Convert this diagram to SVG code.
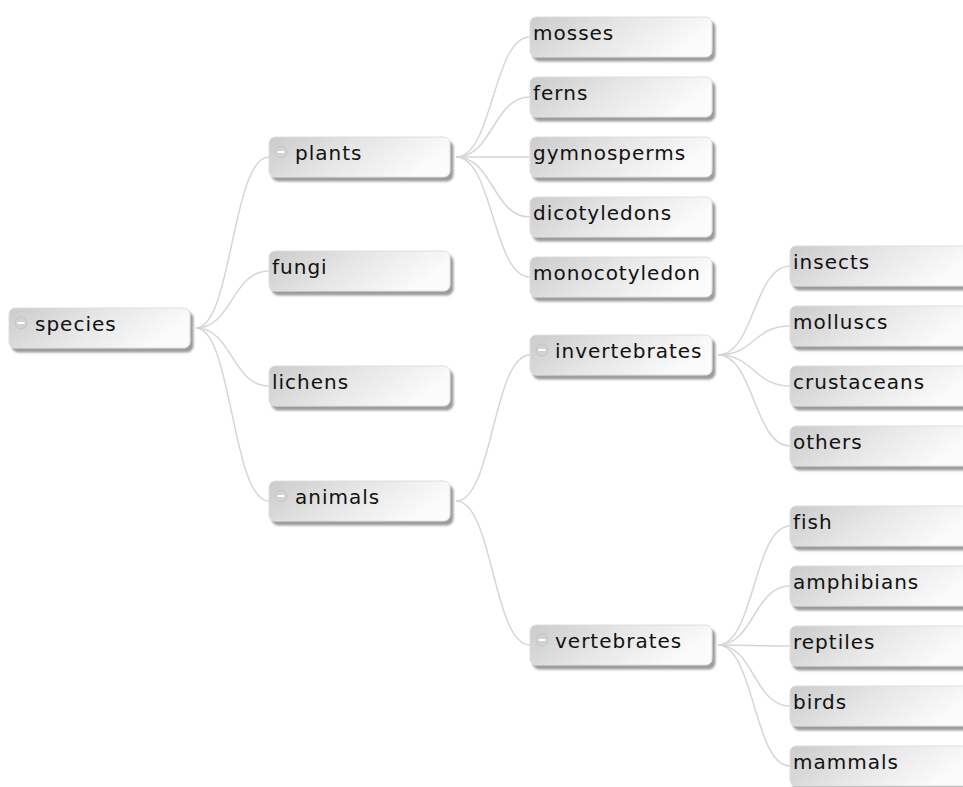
<svg xmlns="http://www.w3.org/2000/svg" width="963" height="787" viewBox="0 0 963 787">
<defs>
<linearGradient id="g" x1="0" y1="0" x2="1" y2="0.3">
<stop offset="0" stop-color="#cbcbcb"/>
<stop offset="0.5" stop-color="#e6e6e6"/>
<stop offset="1" stop-color="#fbfbfb"/>
</linearGradient>
<filter id="sh" x="-10%" y="-20%" width="130%" height="160%">
<feDropShadow dx="3" dy="4" stdDeviation="1.3" flood-color="#8a8a8a" flood-opacity="0.85"/>
</filter>
<style>
.box{fill:url(#g);stroke:#dedede;stroke-width:1;filter:url(#sh)}
.t{font-family:"DejaVu Sans",Verdana,sans-serif;font-size:20px;letter-spacing:1px;fill:#111}
.c{fill:none;stroke:#d6d6d6;stroke-width:1.5}
.ic{fill:#d2d2d2;stroke:#c4c4c4;stroke-width:1}
.mi{stroke:#fff;stroke-width:2}
</style>
</defs>
<rect width="963" height="787" fill="#fff"/>
<g id="connectors">
<path class="c" d="M196,328 C232,328 232,157 269,157"/>
<path class="c" d="M196,328 C232,328 232,271 269,271"/>
<path class="c" d="M196,328 C232,328 232,386 269,386"/>
<path class="c" d="M196,328 C232,328 232,501 269,501"/>
<path class="c" d="M456,157 C493,157 493,37 530,37"/>
<path class="c" d="M456,157 C493,157 493,97 530,97"/>
<path class="c" d="M456,157 C493,157 493,157 530,157"/>
<path class="c" d="M456,157 C493,157 493,217 530,217"/>
<path class="c" d="M456,157 C493,157 493,277 530,277"/>
<path class="c" d="M456,501 C493,501 493,355 530,355"/>
<path class="c" d="M456,501 C493,501 493,645 530,645"/>
<path class="c" d="M718,355 C754,355 754,266 790,266"/>
<path class="c" d="M718,355 C754,355 754,326 790,326"/>
<path class="c" d="M718,355 C754,355 754,386 790,386"/>
<path class="c" d="M718,355 C754,355 754,446 790,446"/>
<path class="c" d="M718,645 C754,645 754,526 790,526"/>
<path class="c" d="M718,645 C754,645 754,586 790,586"/>
<path class="c" d="M718,645 C754,645 754,646 790,646"/>
<path class="c" d="M718,645 C754,645 754,706 790,706"/>
<path class="c" d="M718,645 C754,645 754,766 790,766"/>
</g>
<g id="species"><rect class="box" x="9" y="308" width="181" height="40" rx="6"/><circle class="ic" cx="21" cy="323" r="6"/><line class="mi" x1="17.5" y1="323" x2="24.5" y2="323"/><text class="t" x="35" y="331">species</text></g>
<g id="plants"><rect class="box" x="269" y="137" width="181" height="40" rx="6"/><circle class="ic" cx="281" cy="152" r="6"/><line class="mi" x1="277.5" y1="152" x2="284.5" y2="152"/><text class="t" x="295" y="160">plants</text></g>
<g id="fungi"><rect class="box" x="269" y="251" width="181" height="40" rx="6"/><text class="t" x="272" y="274">fungi</text></g>
<g id="lichens"><rect class="box" x="269" y="366" width="181" height="40" rx="6"/><text class="t" x="272" y="389">lichens</text></g>
<g id="animals"><rect class="box" x="269" y="481" width="181" height="40" rx="6"/><circle class="ic" cx="281" cy="496" r="6"/><line class="mi" x1="277.5" y1="496" x2="284.5" y2="496"/><text class="t" x="295" y="504">animals</text></g>
<g id="mosses"><rect class="box" x="530" y="17" width="182" height="40" rx="6"/><text class="t" x="533" y="40">mosses</text></g>
<g id="ferns"><rect class="box" x="530" y="77" width="182" height="40" rx="6"/><text class="t" x="533" y="100">ferns</text></g>
<g id="gymnosperms"><rect class="box" x="530" y="137" width="182" height="40" rx="6"/><text class="t" x="533" y="160">gymnosperms</text></g>
<g id="dicotyledons"><rect class="box" x="530" y="197" width="182" height="40" rx="6"/><text class="t" x="533" y="220">dicotyledons</text></g>
<g id="monocotyledon"><rect class="box" x="530" y="257" width="182" height="40" rx="6"/><text class="t" x="533" y="280">monocotyledon</text></g>
<g id="invertebrates"><rect class="box" x="530" y="335" width="182" height="40" rx="6"/><circle class="ic" cx="542" cy="350" r="6"/><line class="mi" x1="538.5" y1="350" x2="545.5" y2="350"/><text class="t" x="555" y="358">invertebrates</text></g>
<g id="vertebrates"><rect class="box" x="530" y="625" width="182" height="40" rx="6"/><circle class="ic" cx="542" cy="640" r="6"/><line class="mi" x1="538.5" y1="640" x2="545.5" y2="640"/><text class="t" x="555" y="648">vertebrates</text></g>
<g id="insects"><rect class="box" x="790" y="246" width="182" height="40" rx="6"/><text class="t" x="793" y="269">insects</text></g>
<g id="molluscs"><rect class="box" x="790" y="306" width="182" height="40" rx="6"/><text class="t" x="793" y="329">molluscs</text></g>
<g id="crustaceans"><rect class="box" x="790" y="366" width="182" height="40" rx="6"/><text class="t" x="793" y="389">crustaceans</text></g>
<g id="others"><rect class="box" x="790" y="426" width="182" height="40" rx="6"/><text class="t" x="793" y="449">others</text></g>
<g id="fish"><rect class="box" x="790" y="506" width="182" height="40" rx="6"/><text class="t" x="793" y="529">fish</text></g>
<g id="amphibians"><rect class="box" x="790" y="566" width="182" height="40" rx="6"/><text class="t" x="793" y="589">amphibians</text></g>
<g id="reptiles"><rect class="box" x="790" y="626" width="182" height="40" rx="6"/><text class="t" x="793" y="649">reptiles</text></g>
<g id="birds"><rect class="box" x="790" y="686" width="182" height="40" rx="6"/><text class="t" x="793" y="709">birds</text></g>
<g id="mammals"><rect class="box" x="790" y="746" width="182" height="40" rx="6"/><text class="t" x="793" y="769">mammals</text></g>
</svg>
